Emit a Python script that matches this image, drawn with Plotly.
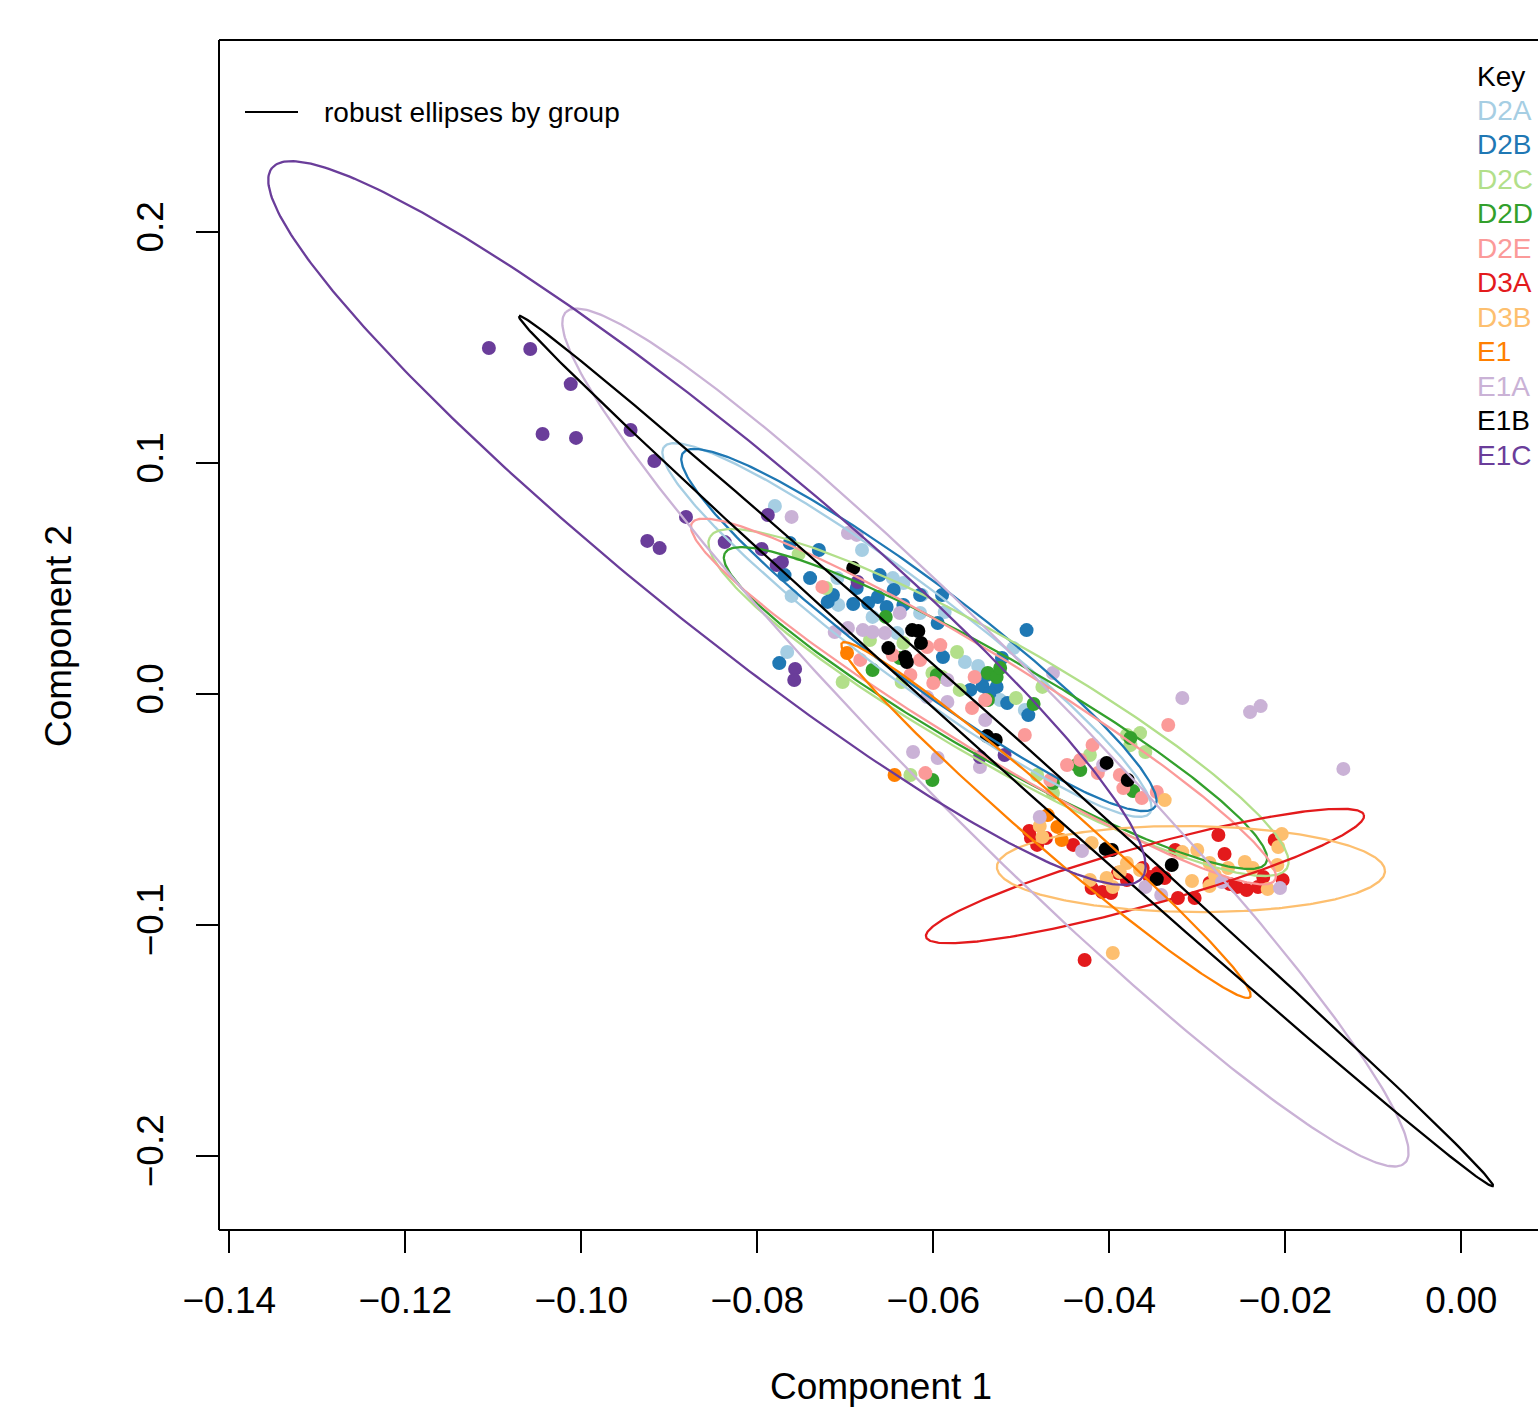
import numpy as np
import plotly.graph_objects as go

# ---------------- data ----------------
groups = ["D2A", "D2B", "D2C", "D2D", "D2E", "D3A", "D3B", "E1", "E1A", "E1B", "E1C"]
group_colors = ["#A6CEE3", "#1F78B4", "#B2DF8A", "#33A02C", "#FB9A99", "#E31A1C",
                "#FDBF6F", "#FF7F00", "#CAB2D6", "#000000", "#6A3D9A"]

d2a_x = [-0.0780, -0.0681, -0.0761, -0.0766, -0.0709, -0.0646, -0.0634, -0.0613, -0.0669,
         -0.0708, -0.0615, -0.0564, -0.0549, -0.0509, -0.0496, -0.0641, -0.0587, -0.0524]
d2a_y = [0.0815, 0.0625, 0.0426, 0.0183, 0.0503, 0.0503, 0.0482, 0.0430, 0.0335,
         0.0387, 0.0352, 0.0140, 0.0123, 0.0200, -0.0068, 0.0265, 0.0356, -0.0025]

d2b_x = [-0.0775, -0.0769, -0.0730, -0.0714, -0.0720, -0.0691, -0.0687, -0.0661, -0.0663,
         -0.0653, -0.0634, -0.0615, -0.0595, -0.0590, -0.0589, -0.0494, -0.0522, -0.0544,
         -0.0528, -0.0516, -0.0492, -0.0539, -0.0763, -0.0740, -0.0674, -0.0645, -0.0558,
         -0.0536]
d2b_y = [0.0135, 0.0516, 0.0625, 0.0430, 0.0400, 0.0391, 0.0460, 0.0516, 0.0421,
         0.0378, 0.0387, 0.0430, 0.0309, 0.0430, 0.0161, 0.0278, 0.0157, 0.0036,
         0.0032, -0.0038, -0.0090, 0.0084, 0.0655, 0.0503, 0.0395, 0.0452, 0.0019,
         0.0006]

d2c_x = [-0.0753, -0.0634, -0.0590, -0.0573, -0.0601, -0.0703, -0.0476, -0.0380, -0.0365,
         -0.0359, -0.0626, -0.0482, -0.0422, -0.0636, -0.0722, -0.0506, -0.0464, -0.0672,
         -0.0570, -0.0376]
d2c_y = [0.0607, 0.0222, 0.0075, 0.0183, 0.0092, 0.0053, 0.0032, -0.0176, -0.0168,
         -0.0250, -0.0349, -0.0349, -0.0263, 0.0053, 0.0460, -0.0016, -0.0427, 0.0235,
         0.0019, -0.0220]

d2d_x = [-0.0669, -0.0654, -0.0638, -0.0596, -0.0538, -0.0528, -0.0538, -0.0486, -0.0376,
         -0.0373, -0.0437, -0.0464, -0.0601, -0.0433, -0.0524]
d2d_y = [0.0105, 0.0335, 0.0157, 0.0084, 0.0092, 0.0075, -0.0025, -0.0042, -0.0189,
         -0.0419, -0.0306, -0.0384, -0.0371, -0.0328, 0.0114]

d2e_x = [-0.0726, -0.0592, -0.0646, -0.0615, -0.0600, -0.0553, -0.0556, -0.0496, -0.0448,
         -0.0419, -0.0388, -0.0384, -0.0363, -0.0346, -0.0333, -0.0609, -0.0467, -0.0607,
         -0.0626, -0.0413, -0.0683, -0.0541, -0.0433]
d2e_y = [0.0465, 0.0213, 0.0170, 0.0148, 0.0049, 0.0075, -0.0059, -0.0176, -0.0306,
         -0.0219, -0.0349, -0.0406, -0.0449, -0.0423, -0.0133, -0.0341, -0.0371, 0.0205,
         0.0084, -0.0341, 0.0149, -0.0025, -0.0284]

d3a_x = [-0.0491, -0.0489, -0.0472, -0.0441, -0.0420, -0.0408, -0.0398, -0.0390, -0.0380,
         -0.0362, -0.0345, -0.0325, -0.0322, -0.0303, -0.0276, -0.0269, -0.0255, -0.0244,
         -0.0231, -0.0225, -0.0212, -0.0203, -0.0428, -0.0263, -0.0354, -0.0337, -0.0286,
         -0.0482]
d3a_y = [-0.0592, -0.0622, -0.0622, -0.0652, -0.0839, -0.0856, -0.0860, -0.0774, -0.0804,
         -0.0752, -0.0774, -0.0674, -0.0882, -0.0882, -0.0609, -0.0691, -0.0834, -0.0847,
         -0.0834, -0.0791, -0.0631, -0.0804, -0.1150, -0.0821, -0.0791, -0.0795, -0.0817,
         -0.0652]

d3b_x = [-0.0479, -0.0476, -0.0420, -0.0337, -0.0317, -0.0300, -0.0380, -0.0388, -0.0403,
         -0.0396, -0.0422, -0.0306, -0.0286, -0.0246, -0.0237, -0.0209, -0.0204, -0.0208,
         -0.0220, -0.0265, -0.0396, -0.0286, -0.0280, -0.0365]
d3b_y = [-0.0570, -0.0618, -0.0644, -0.0458, -0.0683, -0.0674, -0.0730, -0.0769, -0.0795,
         -0.0834, -0.0804, -0.0808, -0.0830, -0.0726, -0.0752, -0.0739, -0.0605, -0.0661,
         -0.0843, -0.0752, -0.1120, -0.0730, -0.0782, -0.0761]

e1_x = [-0.0698, -0.0644, -0.0470, -0.0459, -0.0454]
e1_y = [0.0179, -0.0349, -0.0523, -0.0574, -0.0631]

e1a_x = [-0.0761, -0.0697, -0.0687, -0.0712, -0.0697, -0.0680, -0.0669, -0.0655, -0.0638,
         -0.0584, -0.0607, -0.0584, -0.0541, -0.0464, -0.0317, -0.0240, -0.0228, -0.0134,
         -0.0623, -0.0595, -0.0547, -0.0407, -0.0479, -0.0431, -0.0359, -0.0341, -0.0206,
         -0.0272]
e1a_y = [0.0768, 0.0698, 0.0690, 0.0270, 0.0287, 0.0278, 0.0270, 0.0265, 0.0352,
         0.0062, -0.0012, -0.0033, -0.0111, 0.0092, -0.0016, -0.0077, -0.0051, -0.0323,
         -0.0250, -0.0276, -0.0315, -0.0306, -0.0531, -0.0678, -0.0834, -0.0869, -0.0839,
         -0.0813]

e1b_x = [-0.0691, -0.0624, -0.0617, -0.0614, -0.0651, -0.0632, -0.0630, -0.0539, -0.0529,
         -0.0403, -0.0379, -0.0397, -0.0404, -0.0346, -0.0329]
e1b_y = [0.0547, 0.0278, 0.0274, 0.0222, 0.0200, 0.0161, 0.0140, -0.0181, -0.0198,
         -0.0297, -0.0371, -0.0674, -0.0670, -0.0800, -0.0739]

e1c_x = [-0.1105, -0.1058, -0.1012, -0.1044, -0.1006, -0.0944, -0.0917, -0.0881, -0.0925,
         -0.0911, -0.0837, -0.0788, -0.0795, -0.0772, -0.0778, -0.0757, -0.0758, -0.0686,
         -0.0547, -0.0519]
e1c_y = [0.1499, 0.1495, 0.1343, 0.1127, 0.1110, 0.1144, 0.1010, 0.0768, 0.0664,
         0.0633, 0.0659, 0.0776, 0.0629, 0.0573, 0.0560, 0.0110, 0.0062, 0.0486,
         -0.0271, -0.0263]

group_x = [d2a_x, d2b_x, d2c_x, d2d_x, d2e_x, d3a_x, d3b_x, e1_x, e1a_x, e1b_x, e1c_x]
group_y = [d2a_y, d2b_y, d2c_y, d2d_y, d2e_y, d3a_y, d3b_y, e1_y, e1a_y, e1b_y, e1c_y]

# robust ellipses: centre, end of one axis, end of the conjugate axis (data units)
ell_cx = [-0.06299, -0.06163, -0.05259, -0.05293, -0.05430, -0.03594, -0.03072, -0.04719, -0.05407, -0.05174, -0.08572]
ell_cy = [0.02784, 0.02784, -0.00355, -0.00593, -0.00312, -0.07866, -0.07563, -0.05442, -0.01870, -0.02455, 0.07416]
ell_px = [-0.09060, -0.08844, -0.08538, -0.08367, -0.08742, -0.01106, -0.00867, -0.07038, -0.10174, -0.10708, -0.13515]
ell_py = [0.10706, 0.10446, 0.06810, 0.06117, 0.07416, -0.05225, -0.07649, 0.02221, 0.16550, 0.16377, 0.22784]
ell_qx = [-0.05978, -0.05835, -0.04920, -0.05010, -0.05153, -0.03505, -0.03072, -0.04541, -0.04776, -0.05049, -0.07924]
ell_qy = [0.04411, 0.04446, 0.01900, 0.01286, 0.01407, -0.09091, -0.05701, -0.04658, 0.00489, -0.01922, 0.10446]

x_ticks = [-0.14, -0.12, -0.10, -0.08, -0.06, -0.04, -0.02, 0.00]
x_tick_text = ["\u22120.14", "\u22120.12", "\u22120.10", "\u22120.08", "\u22120.06", "\u22120.04", "\u22120.02", "0.00"]
y_ticks = [-0.2, -0.1, 0.0, 0.1, 0.2]
y_tick_text = ["\u22120.2", "\u22120.1", "0.0", "0.1", "0.2"]

# ---------------- figure ----------------
FONT = "Liberation Sans, Arial, Helvetica, sans-serif"
W, H = 1538, 1407
ML, MR, MT, MB = 219, 0, 40, 177

fig = go.Figure()

for name, col, gx, gy in zip(groups, group_colors, group_x, group_y):
    fig.add_trace(go.Scatter(x=gx, y=gy, mode="markers", name=name,
                             marker=dict(color=col, size=14, line=dict(width=0)),
                             showlegend=False, hoverinfo="x+y+name"))

t = np.linspace(0, 2 * np.pi, 361)
for i, (name, col) in enumerate(zip(groups, group_colors)):
    cx, cy = ell_cx[i], ell_cy[i]
    ux, uy = ell_px[i] - cx, ell_py[i] - cy
    vx, vy = ell_qx[i] - cx, ell_qy[i] - cy
    ex = cx + np.cos(t) * ux + np.sin(t) * vx
    ey = cy + np.cos(t) * uy + np.sin(t) * vy
    fig.add_trace(go.Scatter(x=ex, y=ey, mode="lines", name=name + " ellipse",
                             line=dict(color=col, width=2.3), showlegend=False,
                             hoverinfo="skip"))

plot_w = W - ML - MR
plot_h = H - MT - MB

def px_x(p):
    return (p - ML) / plot_w

def px_y(p):
    return (H - MB - p) / plot_h

annotations = []
annotations.append(dict(text="robust ellipses by group", x=px_x(322), y=px_y(112),
                        xref="paper", yref="paper", xanchor="left", yanchor="middle",
                        showarrow=False, font=dict(size=28, color="black", family=FONT)))
annotations.append(dict(text="Key", x=px_x(1475), y=px_y(76), xref="paper", yref="paper",
                        xanchor="left", yanchor="middle", showarrow=False,
                        font=dict(size=28, color="black", family=FONT)))
for i, (name, col) in enumerate(zip(groups, group_colors)):
    annotations.append(dict(text=name, x=px_x(1475), y=px_y(110 + i * 34.55),
                            xref="paper", yref="paper", xanchor="left", yanchor="middle",
                            showarrow=False, font=dict(size=28, color=col, family=FONT)))
annotations.append(dict(text="Component 1", x=px_x(881), y=px_y(1386), xref="paper", yref="paper",
                        xanchor="center", yanchor="middle", showarrow=False,
                        font=dict(size=37, color="black", family=FONT)))
annotations.append(dict(text="Component 2", x=px_x(58), y=px_y(636), xref="paper", yref="paper",
                        xanchor="center", yanchor="middle", showarrow=False, textangle=-90,
                        font=dict(size=37, color="black", family=FONT)))

shapes = [
    dict(type="line", xref="paper", yref="paper", x0=0, x1=0, y0=0, y1=1, line=dict(color="black", width=2)),
    dict(type="line", xref="paper", yref="paper", x0=0, x1=1, y0=1, y1=1, line=dict(color="black", width=2)),
    dict(type="line", xref="paper", yref="paper", x0=0, x1=1, y0=0, y1=0, line=dict(color="black", width=2)),
    dict(type="line", xref="paper", yref="paper", x0=px_x(245), x1=px_x(298), y0=px_y(112), y1=px_y(112),
         line=dict(color="black", width=2)),
]

fig.update_layout(
    width=W, height=H,
    margin=dict(l=ML, r=MR, t=MT, b=MB, pad=0),
    paper_bgcolor="white", plot_bgcolor="white",
    showlegend=False,
    annotations=annotations, shapes=shapes,
    font=dict(family=FONT, color="black"),
    xaxis=dict(range=[-0.14117, 0.00872], tickvals=x_ticks, ticktext=x_tick_text,
               ticks="outside", ticklen=22, tickwidth=2, tickcolor="black",
               showgrid=False, zeroline=False, showline=False,
               tickfont=dict(size=37, family=FONT, color="black"),
               ticklabelstandoff=16),
    yaxis=dict(range=[-0.23190, 0.28325], tickvals=y_ticks, ticktext=y_tick_text,
               ticks="outside", ticklen=22, tickwidth=2, tickcolor="black",
               showgrid=False, zeroline=False, showline=False, tickangle=-90,
               tickfont=dict(size=37, family=FONT, color="black"),
               ticklabelstandoff=18),
)

fig.write_html("out.html")
